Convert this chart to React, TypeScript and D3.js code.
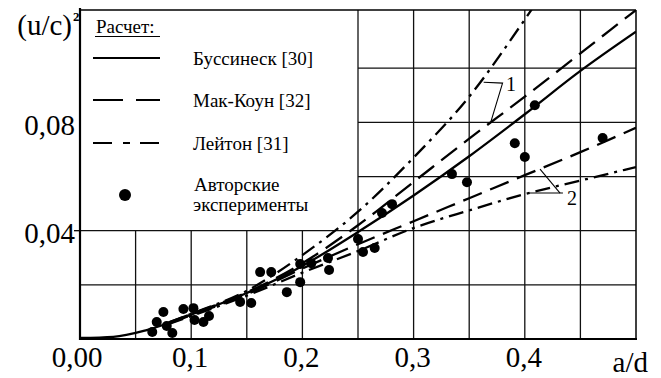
import React, { useEffect, useRef } from 'react';
import * as d3 from 'd3';

// axis ticks
const xTicks = [0, 0.1, 0.2, 0.3, 0.4];
const xTickLabels = ['0,00', '0,1', '0,2', '0,3', '0,4'];
const yTicks = [0.04, 0.08];
const yTickLabels = ['0,04', '0,08'];
const xGrid = [0.05, 0.1, 0.15, 0.2, 0.25, 0.3, 0.35, 0.4, 0.45];
const yGrid = [0.02, 0.04, 0.06, 0.08, 0.1];

// calculated curves: [a/d, (u/c)^2]
const boussinesq: [number, number][] = [
  [0, 0.0004], [0.03, 0.0008], [0.06, 0.0033], [0.1, 0.009], [0.15, 0.017], [0.2, 0.027],
  [0.25, 0.0395], [0.3, 0.053], [0.35, 0.0675], [0.4, 0.083], [0.45, 0.099], [0.5, 0.1135],
];
const macCown1: [number, number][] = [
  [0.08, 0.0062], [0.1, 0.0092], [0.15, 0.0172], [0.2, 0.028], [0.25, 0.042], [0.3, 0.058],
  [0.35, 0.074], [0.4, 0.0895], [0.45, 0.1055], [0.5, 0.1215],
];
const leighton1: [number, number][] = [
  [0.08, 0.0062], [0.1, 0.0093], [0.15, 0.0178], [0.2, 0.031], [0.25, 0.047], [0.3, 0.067],
  [0.35, 0.0895], [0.4, 0.118], [0.41, 0.124],
];
const macCown2: [number, number][] = [
  [0.08, 0.0058], [0.1, 0.0088], [0.15, 0.0165], [0.2, 0.026], [0.25, 0.035], [0.3, 0.0435],
  [0.35, 0.052], [0.4, 0.0605], [0.45, 0.069], [0.5, 0.078],
];
const leighton2: [number, number][] = [
  [0.08, 0.0056], [0.1, 0.0085], [0.15, 0.016], [0.2, 0.0245], [0.25, 0.0325], [0.3, 0.041],
  [0.35, 0.0475], [0.4, 0.0535], [0.45, 0.0585], [0.5, 0.0635],
];

// author's experiments
const experiments: [number, number][] = [
  [0.065, 0.0026], [0.069, 0.0063], [0.075, 0.01], [0.078, 0.0048], [0.083, 0.0022],
  [0.093, 0.0111], [0.102, 0.0114], [0.103, 0.007], [0.111, 0.0063], [0.116, 0.0085],
  [0.144, 0.0137], [0.154, 0.0133], [0.162, 0.0247], [0.172, 0.0247], [0.186, 0.0173],
  [0.198, 0.021], [0.198, 0.0277], [0.208, 0.028], [0.223, 0.0299], [0.224, 0.0255],
  [0.25, 0.0369], [0.2545, 0.0321], [0.265, 0.0336], [0.2716, 0.0465], [0.2806, 0.0498],
  [0.3345, 0.0609], [0.348, 0.0579], [0.391, 0.0723], [0.4, 0.0672], [0.409, 0.0863],
  [0.47, 0.0742],
];

const legendTitle = 'Расчет:';
const legendLabels = ['Буссинеск [30]', 'Мак-Коун [32]', 'Лейтон [31]'];
const legendDotLabel = ['Авторские', 'эксперименты'];

// leader lines for curve groups
const leader1: [number, number][] = [[0.363, 0.0948], [0.38, 0.0945], [0.3696, 0.0804]];
const leader2a: [number, number][] = [[0.4137, 0.0627], [0.4317, 0.0539]];
const leader2b: [number, number][] = [[0.4029, 0.0539], [0.4343, 0.0539]];

const FONT = 'Liberation Serif';

const App = () => {
  const ref = useRef<SVGSVGElement>(null);

  useEffect(() => {
    const svg = d3.select(ref.current);
    svg.selectAll('*').remove();

    const x = d3.scaleLinear().domain([0, 0.5]).range([80, 636]);
    const y = d3.scaleLinear().domain([0, 0.1215]).range([339, 10]);

    svg.append('rect').attr('width', 661).attr('height', 378).attr('fill', '#fff');

    svg.append('clipPath').attr('id', 'plot')
      .append('rect').attr('x', 80).attr('y', 10).attr('width', 556).attr('height', 329);

    // grid: the legend covers x < 0.25, y > 0.04
    const grid = svg.append('g').attr('stroke', '#111').attr('stroke-width', 1.3);
    xGrid.forEach((v) => {
      grid.append('line')
        .attr('x1', x(v)).attr('x2', x(v))
        .attr('y1', y(0)).attr('y2', v < 0.25 ? y(0.04) : y.range()[1]);
    });
    yGrid.forEach((v) => {
      grid.append('line')
        .attr('y1', y(v)).attr('y2', y(v))
        .attr('x1', v > 0.04 ? x(0.25) : x(0)).attr('x2', x(0.5));
    });

    // frame
    const frame = svg.append('g').attr('stroke', '#000').attr('fill', 'none');
    frame.append('line').attr('x1', x(0)).attr('x2', x(0)).attr('y1', 8).attr('y2', y(0) + 1).attr('stroke-width', 2.2);
    frame.append('line').attr('x1', x(0)).attr('x2', x(0.5) + 1).attr('y1', y(0)).attr('y2', y(0)).attr('stroke-width', 2.2);
    frame.append('line').attr('x1', x(0)).attr('x2', x(0.5)).attr('y1', 10).attr('y2', 10).attr('stroke-width', 1.5);
    frame.append('line').attr('x1', x(0.5)).attr('x2', x(0.5)).attr('y1', 10).attr('y2', y(0)).attr('stroke-width', 1.5);
    frame.append('line').attr('x1', x(0) - 6).attr('x2', x(0)).attr('y1', y(0.04)).attr('y2', y(0.04)).attr('stroke-width', 1.3);

    // curves
    const line = d3.line<[number, number]>()
      .x((d) => x(d[0])).y((d) => y(d[1]))
      .curve(d3.curveMonotoneX);
    const curves = svg.append('g').attr('clip-path', 'url(#plot)')
      .attr('fill', 'none').attr('stroke', '#000').attr('stroke-width', 2.3);
    curves.append('path').attr('d', line(boussinesq));
    curves.append('path').attr('d', line(macCown1)).attr('stroke-dasharray', '20,9');
    curves.append('path').attr('d', line(macCown2)).attr('stroke-dasharray', '20,9');
    curves.append('path').attr('d', line(leighton1)).attr('stroke-dasharray', '15,6,3,6');
    curves.append('path').attr('d', line(leighton2)).attr('stroke-dasharray', '15,6,3,6');

    // experiment points
    svg.append('g').selectAll('circle').data(experiments).enter().append('circle')
      .attr('cx', (d) => x(d[0])).attr('cy', (d) => y(d[1])).attr('r', 5).attr('fill', '#000');

    // leaders and group numbers
    const plain = d3.line<[number, number]>().x((d) => x(d[0])).y((d) => y(d[1]));
    const leaders = svg.append('g').attr('fill', 'none').attr('stroke', '#000').attr('stroke-width', 1.1);
    leaders.append('path').attr('d', plain(leader1));
    leaders.append('path').attr('d', plain(leader2a));
    leaders.append('path').attr('d', plain(leader2b));
    svg.append('text').attr('x', x(0.3876)).attr('y', y(0.094)).attr('dy', '0.35em')
      .attr('font-family', FONT).attr('font-size', 20).attr('text-anchor', 'middle').text('1');
    svg.append('text').attr('x', x(0.4424)).attr('y', y(0.052)).attr('dy', '0.35em')
      .attr('font-family', FONT).attr('font-size', 20).attr('text-anchor', 'middle').text('2');

    // tick labels
    svg.append('g').selectAll('text').data(xTicks).enter().append('text')
      .attr('x', (d) => x(d) - (d === 0 ? 3 : 1)).attr('y', 367)
      .attr('text-anchor', 'middle').attr('font-family', FONT).attr('font-size', 29)
      .text((d, i) => xTickLabels[i]);
    svg.append('g').selectAll('text').data(yTicks).enter().append('text')
      .attr('x', 75).attr('y', (d) => y(d) + 2).attr('dy', '0.35em')
      .attr('text-anchor', 'end').attr('font-family', FONT).attr('font-size', 29)
      .text((d, i) => yTickLabels[i]);

    // axis titles
    svg.append('text').attr('x', 72).attr('y', 35).attr('text-anchor', 'end')
      .attr('font-family', FONT).attr('font-size', 29).text('(u/c)');
    svg.append('text').attr('x', 73).attr('y', 21).attr('font-family', FONT)
      .attr('font-size', 13).attr('font-weight', 'bold').text('2');
    svg.append('text').attr('x', 648).attr('y', 372).attr('text-anchor', 'end')
      .attr('font-family', FONT).attr('font-size', 29).text('a/d');

    // legend
    const lg = svg.append('g').attr('font-family', FONT).attr('font-size', 19);
    lg.append('text').attr('x', 96).attr('y', 33).text(legendTitle);
    lg.append('line').attr('x1', 95).attr('x2', 160).attr('y1', 36.5).attr('y2', 36.5)
      .attr('stroke', '#000').attr('stroke-width', 1);
    const dashes = [null, '30,13', '19,11,7,10'];
    const rowY = [58, 100, 143];
    legendLabels.forEach((label, i) => {
      const l = lg.append('line').attr('x1', 93).attr('x2', 160)
        .attr('y1', rowY[i]).attr('y2', rowY[i]).attr('stroke', '#000').attr('stroke-width', 2.2);
      if (dashes[i]) l.attr('stroke-dasharray', dashes[i] as string);
      lg.append('text').attr('x', 193).attr('y', rowY[i]).attr('dy', '0.35em').text(label);
    });
    lg.append('circle').attr('cx', 125).attr('cy', 195).attr('r', 6).attr('fill', '#000');
    lg.append('text').attr('x', 194).attr('y', 191).text(legendDotLabel[0]);
    lg.append('text').attr('x', 193).attr('y', 211).text(legendDotLabel[1]);
  }, []);

  return (
    <svg
      ref={ref}
      width={661}
      height={378}
      style={{ position: 'absolute', left: 0, top: 0, display: 'block' }}
    />
  );
};

export default App;
